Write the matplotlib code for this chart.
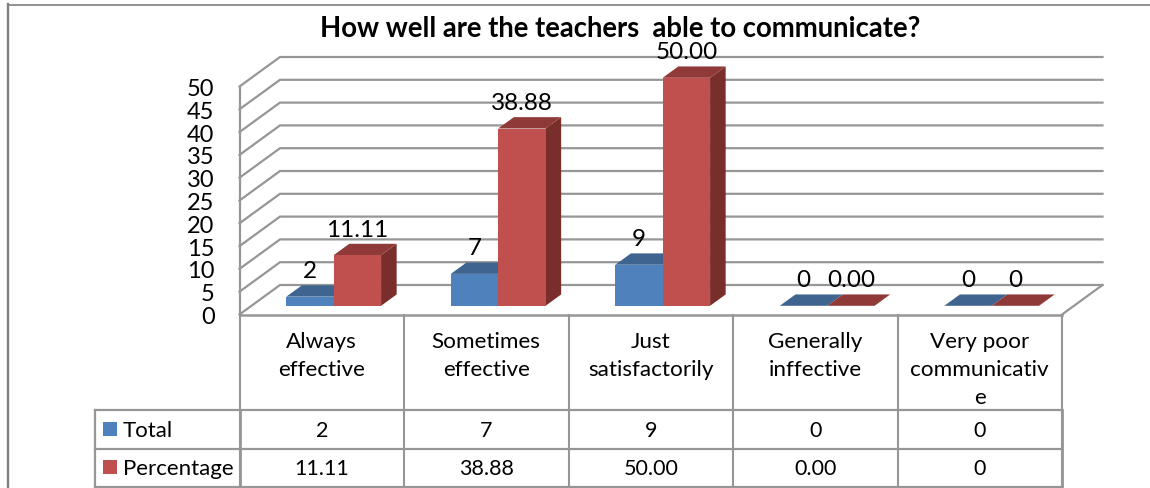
import matplotlib
matplotlib.use("Agg")
import matplotlib.pyplot as plt

categories = ["Always\neffective", "Sometimes\neffective", "Just\nsatisfactorily",
              "Generally\ninffective", "Very poor\ncommunicativ\ne"]
series_names = ["Total", "Percentage"]
total_values = [2, 7, 9, 0, 0]
percentage_values = [11.11, 38.88, 50.00, 0.00, 0]
total_labels = ["2", "7", "9", "0", "0"]
percentage_labels = ["11.11", "38.88", "50.00", "0.00", "0"]
y_ticks = [0, 5, 10, 15, 20, 25, 30, 35, 40, 45, 50]
title = "How well are the teachers  able to communicate?"

W, H = 1150, 489
FONT = "Lato"
plt.rcParams["font.family"] = [FONT, "DejaVu Sans"]
GRID = "#969696"
FRAME = "#7f7f7f"
COL = {"Total": ("#4F81BD", "#3F648F", "#35547A"),
       "Percentage": ("#C0504D", "#8F3A38", "#7A2E2C")}

fig = plt.figure(figsize=(W / 100, H / 100), dpi=100, facecolor="white")

# pixel overlay for the chart frame and data table
ov = fig.add_axes([0, 0, 1, 1], zorder=0)
ov.set_xlim(0, W); ov.set_ylim(H, 0); ov.axis("off")

# front plane of the 3D chart
L, R, T, B = 239.5, 1062.0, 87.5, 315.5
ax = fig.add_axes([L / W, (H - B) / H, (R - L) / W, (B - T) / H], zorder=1)
ax.set_xlim(0, len(categories)); ax.set_ylim(0, 50)
ax.axis("off"); ax.patch.set_alpha(0)

px_x = len(categories) / (R - L)
px_y = 50 / (B - T)
DX, DY = 40.5 * px_x, 29.5 * px_y      # full depth of floor in data units


def depth(x, y, d):
    return x + d * DX, y + d * DY


# walls
for v in y_ticks:
    x0, y0 = depth(0, v, 0); x1, y1 = depth(0, v, 1); x2, y2 = depth(5, v, 1)
    ax.plot([x0, x1, x2], [y0, y1, y2], color=GRID, lw=1.6, clip_on=False,
            solid_joinstyle="miter", zorder=1)
x1, y1 = depth(5, 0, 1)
ax.plot([5, x1], [0, y1], color=GRID, lw=1.6, clip_on=False, zorder=1)
ax.plot([0, 5], [0, 0], color=GRID, lw=1.8, clip_on=False, zorder=1)
ax.plot([0, 0], [0, 50], color=GRID, lw=1.6, clip_on=False, zorder=1)

# bars
bw = 0.288
near, far = 0.295, 0.68     # depth range of the bar body
for i, (a, b) in enumerate(zip(total_values, percentage_values)):
    for j, (name, v, lab) in enumerate(((series_names[0], a, total_labels[i]),
                                        (series_names[1], b, percentage_labels[i]))):
        front, top, side = COL[name]
        xl = i + 0.5 - bw + j * bw
        xr = xl + bw
        xa, ya = depth(xl, 0, near)
        xb, _ = depth(xr, 0, near)
        zt = 5 + j
        # side
        p = [depth(xr, 0, near), depth(xr, v, near), depth(xr, v, far), depth(xr, 0, far)]
        ax.fill(*zip(*p), color=side, lw=0, clip_on=False, zorder=zt)
        # top
        p = [depth(xl, v, near), depth(xr, v, near), depth(xr, v, far), depth(xl, v, far)]
        ax.fill(*zip(*p), color=top, lw=0, clip_on=False, zorder=zt)
        # front
        ax.bar(xa, v, width=xb - xa, bottom=ya, align="edge", color=front, lw=0,
               clip_on=False, zorder=zt)
        ax.annotate(lab, (xa + (xb - xa) / 2, ya + v), xytext=(0, 26),
                    textcoords="offset pixels", ha="center", va="center",
                    fontsize=17.5, color="black", zorder=20, annotation_clip=False)

# y tick labels
for v in y_ticks:
    ax.annotate(str(v), (0, v), xytext=(-25, -2), textcoords="offset pixels",
                ha="right", va="center", fontsize=17, color="black", annotation_clip=False)

# title
fig.text(620 / W, 1 - 29.5 / H, title, ha="center", va="center", fontsize=19.8,
         fontweight="bold", color="black")

# outer frame
ov.plot([8, W], [5.5, 5.5], color=FRAME, lw=1.2)
ov.plot([8, 8], [H, 5], color=FRAME, lw=1.7)

# data table
rows = [411, 449.5, 488]
cw = (R - L) / len(categories)
xs = [L + cw * k for k in range(len(categories) + 1)]
for x in xs:
    ov.plot([x, x], [B, rows[-1]], color=GRID, lw=1.5)
ov.plot([95, 95], [rows[0], rows[-1]], color=GRID, lw=1.6)
ov.plot([L, L], [rows[0], rows[-1]], color=GRID, lw=2)
ov.plot([R, R], [rows[0], rows[-1]], color=GRID, lw=2)
for y in rows:
    ov.plot([95, R], [y, y], color=GRID, lw=1.6)

for i, c in enumerate(categories):
    cx = L + cw * (i + 0.5)
    for k, line in enumerate(c.split("\n")):
        ov.text(cx, 341.5 + k * 28.5, line, ha="center", va="center", fontsize=16.2, color="black")
    ov.text(cx, 431, total_labels[i], ha="center", va="center", fontsize=15.5, color="black")
    ov.text(cx, 469, percentage_labels[i], ha="center", va="center", fontsize=15.5, color="black")

for name, y in zip(series_names, [430, 468]):
    ov.add_patch(plt.Rectangle((103, y - 7), 14, 14, color=COL[name][0], lw=0))
    ov.text(123, y + 1, name, ha="left", va="center", fontsize=16, color="black")

fig.savefig("out.png", dpi=100, facecolor="white")
